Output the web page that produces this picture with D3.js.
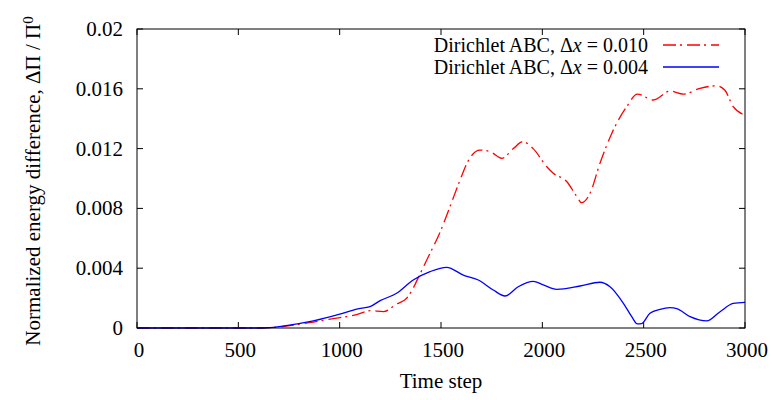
<!DOCTYPE html>
<html>
<head>
<meta charset="utf-8">
<script src="https://cdn.jsdelivr.net/npm/d3@7.9.0/dist/d3.min.js"></script>
<style>
  body { margin: 0; background: #fff; }
  svg { display: block; font-family: "Liberation Serif", "DejaVu Serif", serif; }
</style>
</head>
<body>
<div id="chart"></div>
<script>
// Data
const xTicks = [0, 500, 1000, 1500, 2000, 2500, 3000];
const yTicks = [0, 0.004, 0.008, 0.012, 0.016, 0.02];
const yTickLabels = ["0", "0.004", "0.008", "0.012", "0.016", "0.02"];

const coarseSteps = [0, 600, 720, 870, 1002, 1035, 1084, 1150, 1216, 1281, 1331, 1356, 1396, 1446, 1495, 1544, 1594, 1635, 1692, 1742, 1800, 1857, 1903, 1955, 2021, 2054, 2120, 2170, 2194, 2235, 2284, 2342, 2416, 2469, 2548, 2630, 2696, 2778, 2860, 2901, 2942, 3000];
const coarseValues = [0, 0, 0.0001, 0.0004, 0.0007, 0.00076, 0.0009, 0.00116, 0.0011, 0.0016, 0.002, 0.0025, 0.0036, 0.005, 0.0064, 0.0081, 0.0099, 0.0112, 0.0119, 0.0118, 0.01135, 0.012, 0.01246, 0.012, 0.0108, 0.01035, 0.0098, 0.0088, 0.00838, 0.009, 0.011, 0.013, 0.0148, 0.01565, 0.01525, 0.01585, 0.01565, 0.01603, 0.0162, 0.0159, 0.0148, 0.01425];

const fineSteps = [0, 500, 620, 720, 870, 1000, 1084, 1150, 1200, 1281, 1363, 1446, 1528, 1610, 1684, 1758, 1816, 1881, 1955, 2005, 2071, 2186, 2284, 2334, 2400, 2441, 2469, 2490, 2531, 2581, 2630, 2663, 2729, 2811, 2877, 2942, 3000];
const fineValues = [0, 0, 0, 0.00013, 0.00047, 0.00092, 0.00127, 0.00143, 0.00183, 0.00232, 0.00321, 0.00377, 0.00406, 0.00354, 0.00321, 0.00254, 0.00214, 0.00276, 0.00312, 0.00288, 0.00259, 0.00281, 0.00306, 0.00276, 0.00165, 0.00076, 0.00027, 0.0003, 0.00098, 0.00125, 0.00136, 0.0013, 0.00076, 0.00047, 0.00109, 0.00165, 0.00172];

// legend text split around the italic x
const seriesNames = [
    ["Dirichlet ABC, \u0394", "x", " = 0.010"],
    ["Dirichlet ABC, \u0394", "x", " = 0.004"]
];

// Setup dimensions
const W = 773, H = 400;
const margin = {top: 29, right: 28, bottom: 72, left: 137};
const width = W - margin.left - margin.right;
const height = H - margin.top - margin.bottom;
const fontSize = 21;

const svg = d3.select("#chart").append("svg")
    .attr("width", W)
    .attr("height", H);

const g = svg.append("g")
    .attr("transform", `translate(${margin.left},${margin.top})`);

const x = d3.scaleLinear().domain([0, 3000]).range([0, width]);
const y = d3.scaleLinear().domain([0, 0.02]).range([height, 0]);

// Ticks inside the frame, mirrored (gnuplot style)
const tickLen = 6;
g.append("g").selectAll("line")
    .data(xTicks)
    .join("line")
    .attr("x1", d => x(d)).attr("x2", d => x(d))
    .attr("y1", height).attr("y2", height - tickLen)
    .attr("stroke", "#000");
g.append("g").selectAll("line")
    .data(xTicks)
    .join("line")
    .attr("x1", d => x(d)).attr("x2", d => x(d))
    .attr("y1", 0).attr("y2", tickLen)
    .attr("stroke", "#000");
g.append("g").selectAll("line")
    .data(yTicks)
    .join("line")
    .attr("x1", 0).attr("x2", tickLen)
    .attr("y1", d => y(d)).attr("y2", d => y(d))
    .attr("stroke", "#000");
g.append("g").selectAll("line")
    .data(yTicks)
    .join("line")
    .attr("x1", width).attr("x2", width - tickLen)
    .attr("y1", d => y(d)).attr("y2", d => y(d))
    .attr("stroke", "#000");

// Tick labels
g.append("g").selectAll("text")
    .data(xTicks)
    .join("text")
    .attr("x", d => x(d) + 2)
    .attr("y", height + 29)
    .attr("text-anchor", "middle")
    .attr("font-size", fontSize)
    .text(d => d);
g.append("g").selectAll("text")
    .data(yTicks)
    .join("text")
    .attr("x", -14)
    .attr("y", d => y(d))
    .attr("dy", "0.33em")
    .attr("text-anchor", "end")
    .attr("font-size", fontSize)
    .text((d, i) => yTickLabels[i]);

// Axis labels
g.append("text")
    .attr("x", width / 2)
    .attr("y", height + 60)
    .attr("text-anchor", "middle")
    .attr("font-size", fontSize)
    .text("Time step");

const yLabel = svg.append("text")
    .attr("transform", "translate(40,181) rotate(-90)")
    .attr("text-anchor", "middle")
    .attr("font-size", fontSize);
yLabel.append("tspan").text("Normalized energy difference, \u0394\u03A0 / \u03A0");
yLabel.append("tspan").attr("dy", "-0.45em").attr("font-size", 15).text("0");

// Lines
const line = d3.line()
    .x(d => x(d[0]))
    .y(d => y(d[1]))
    .curve(d3.curveMonotoneX);

const coarse = coarseSteps.map((s, i) => [s, coarseValues[i]]);
const fine = fineSteps.map((s, i) => [s, fineValues[i]]);

g.append("path")
    .datum(coarse)
    .attr("fill", "none")
    .attr("stroke", "#ff0000")
    .attr("stroke-width", 1.3)
    .attr("stroke-dasharray", "13,4,2,5")
    .attr("d", line);

g.append("path")
    .datum(fine)
    .attr("fill", "none")
    .attr("stroke", "#0000ff")
    .attr("stroke-width", 1.3)
    .attr("d", line);

// Frame
g.append("rect")
    .attr("width", width)
    .attr("height", height)
    .attr("fill", "none")
    .attr("stroke", "#000")
    .attr("stroke-width", 1);

// Legend
const legend = g.append("g");
const legendRows = [
    {name: seriesNames[0], color: "#ff0000", dash: "13,4,2,5"},
    {name: seriesNames[1], color: "#0000ff", dash: null}
];
legendRows.forEach((r, i) => {
    const ly = 16 + i * 22;
    const t = legend.append("text")
        .attr("x", 511)
        .attr("y", ly)
        .attr("dy", "0.33em")
        .attr("text-anchor", "end")
        .attr("font-size", 20);
    t.append("tspan").text(r.name[0]);
    t.append("tspan").attr("font-style", "italic").text(r.name[1]);
    t.append("tspan").text(r.name[2]);
    legend.append("line")
        .attr("x1", 526).attr("x2", 582)
        .attr("y1", ly).attr("y2", ly)
        .attr("stroke", r.color)
        .attr("stroke-width", 1.3)
        .attr("stroke-dasharray", r.dash);
});
</script>
</body>
</html>
